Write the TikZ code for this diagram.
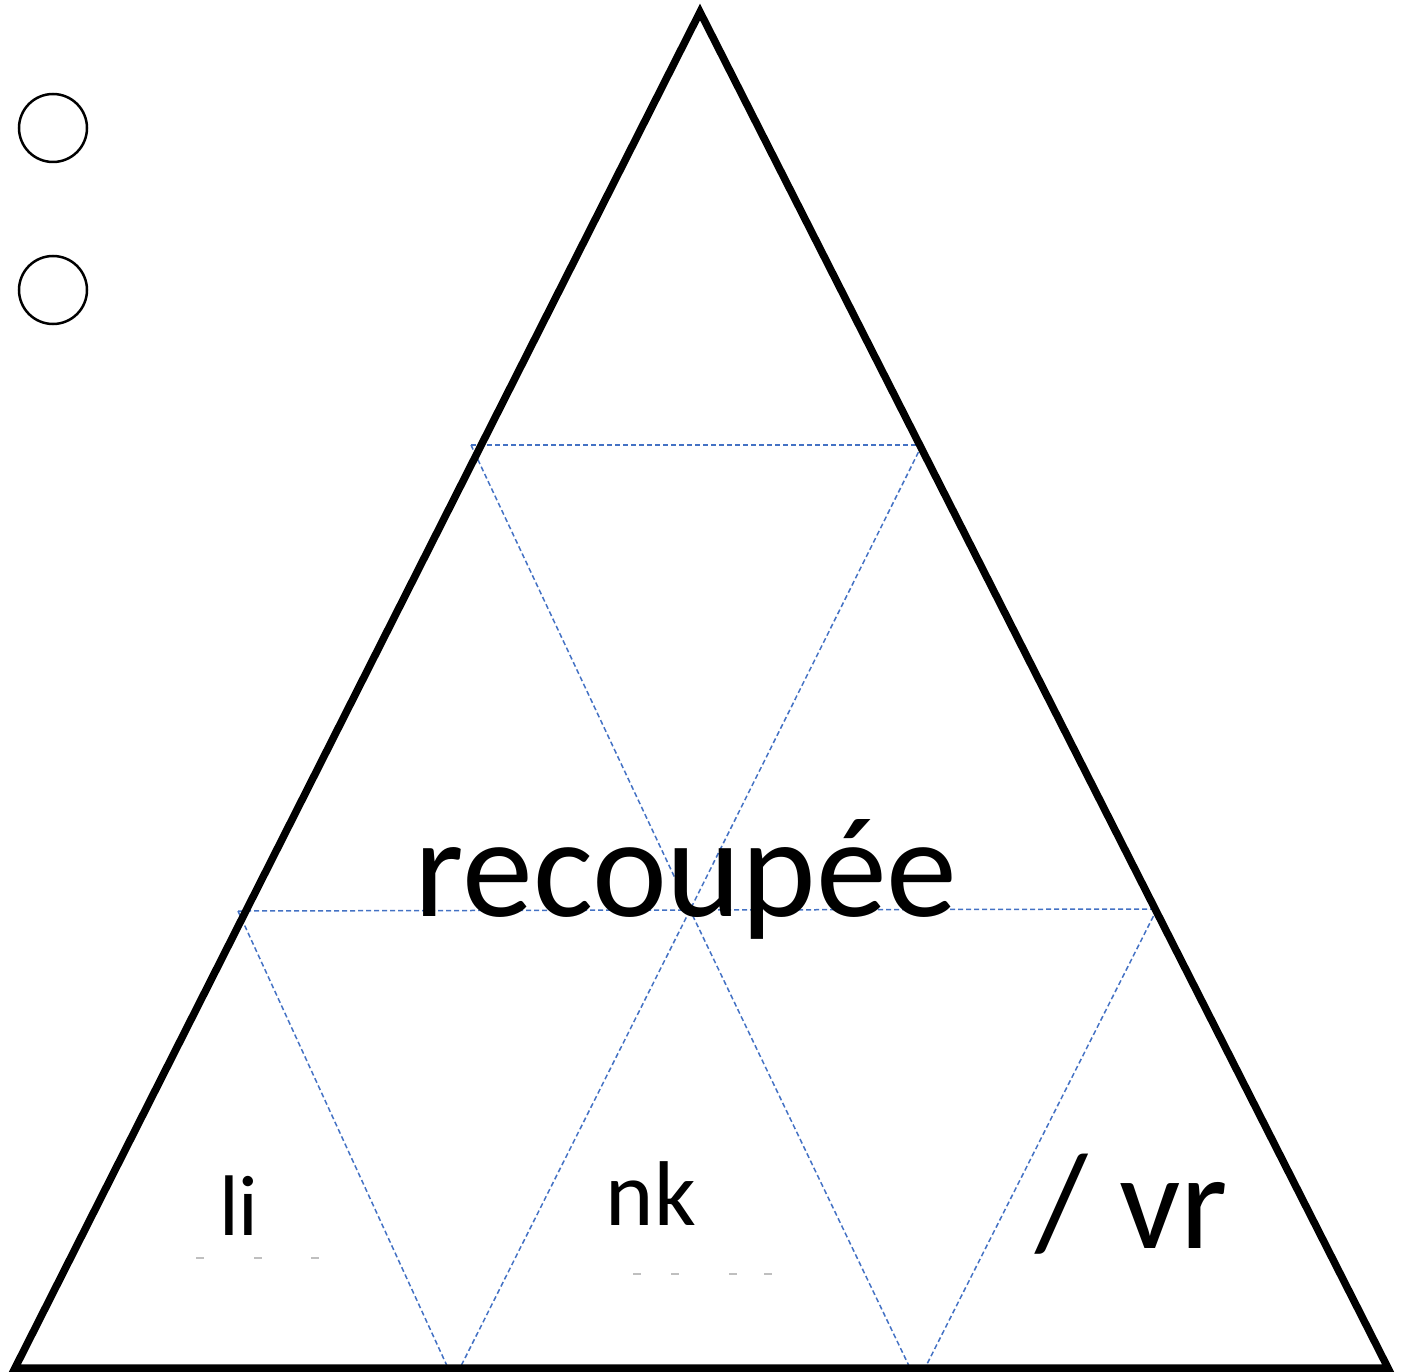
\documentclass[tikz,border=0pt]{standalone}
\usepackage{fontspec}
\setmainfont{Carlito}
\begin{document}
\begin{tikzpicture}[x=1pt,y=-1pt,
  outline/.style={draw=black,line width=7.5pt,line join=miter},
  grid/.style={draw={rgb,255:red,68;green,114;blue,196},line width=1.5pt,dash pattern=on 5pt off 3pt},
  ring/.style={draw=black,line width=2.5pt,circle,minimum size=68pt,inner sep=0pt},
  faint/.style={draw=black!25,line width=1.5pt},
  lbl/.style={anchor=base,inner sep=0pt}]
\useasboundingbox (0,0) rectangle (1405,1372);
% outer triangle
\coordinate (A) at (700,12);
\coordinate (L) at (15,1368);
\coordinate (R) at (1388,1368);
% grid points
\coordinate (p1) at (471,445);
\coordinate (p2) at (922,445);
\coordinate (q1) at (238,911);
\coordinate (q2) at (1157,909);
\coordinate (c) at (690,910);
\coordinate (b1) at (448,1368);
\coordinate (b2) at (460,1368);
\coordinate (b3) at (910,1368);
\coordinate (b4) at (925,1368);
\draw[grid] (p1) -- (p2);
\draw[grid] (q1) -- (q2);
\draw[grid] (p1) -- (c) -- (b3);
\draw[grid] (p2) -- (c) -- (b2);
\draw[grid] (q1) -- (b1);
\draw[grid] (q2) -- (b4);
\draw[outline] (A) -- (L) -- (R) -- cycle;
% circles
\node[ring] (r1) at (53,128) {};
\node[ring] (r2) at (53,290) {};
% labels
\node[lbl,font=\fontsize{142}{150}\selectfont] (t1) at (686,916) {recoupée};
\node[lbl,font=\fontsize{86}{90}\selectfont] (t2) at (239,1235) {li};
\node[lbl,font=\fontsize{92}{96}\selectfont] (t3) at (651,1225) {nk};
\node[lbl,font=\fontsize{136}{140}\selectfont] (t4) at (1132,1248) {/ vr};
% faint marks
\foreach \x in {200,258,315} \draw[faint] (\x-4,1258) -- (\x+4,1258);
\foreach \x in {637,675,733,768} \draw[faint] (\x-4,1274) -- (\x+4,1274);
\end{tikzpicture}
\end{document}
